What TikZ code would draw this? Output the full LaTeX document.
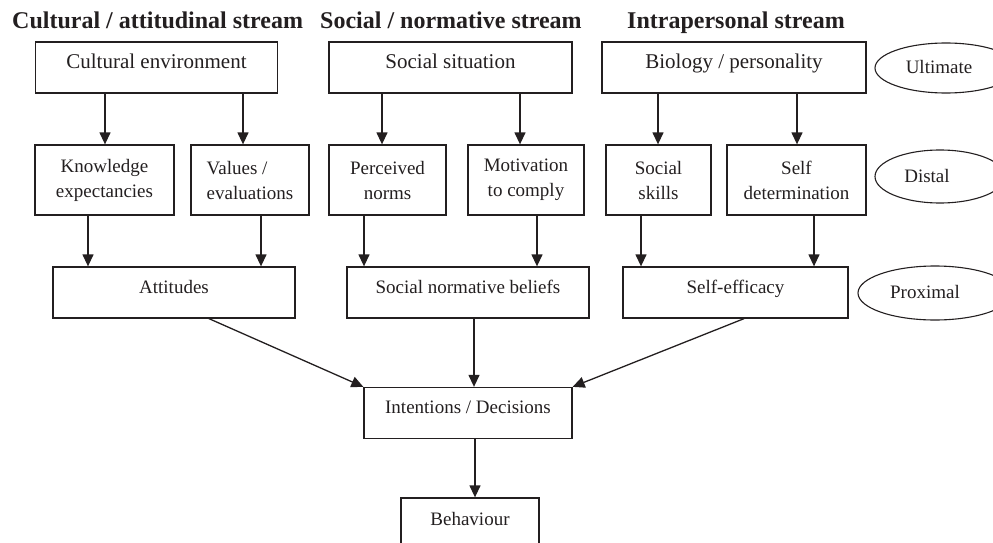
\documentclass[tikz,border=0pt]{standalone}
\usepackage{fontspec}
\setmainfont{Liberation Serif}
\usetikzlibrary{arrows.meta,shapes.geometric}
\definecolor{ln}{RGB}{35,31,32}
\begin{document}
\begin{tikzpicture}[x=1pt,y=-1pt,
  every node/.style={font=\fontsize{19}{25}\selectfont, text=ln},
  lbox/.style={draw=ln, line width=1.3pt, inner sep=0pt, text height=26pt, text depth=25pt, align=center},
  topbox/.style={lbox, font=\fontsize{21}{25}\selectfont, text height=27pt, text depth=24pt},
  tbox/.style={draw=ln, line width=1.3pt, inner sep=0pt, minimum height=70pt, align=center},
  oval/.style={draw=ln, line width=1.1pt, ellipse, inner sep=0pt},
  head/.style={font=\bfseries\fontsize{24}{28}\selectfont, anchor=base west, inner sep=0pt},
  arr/.style={draw=ln, line width=1.3pt, -{Triangle[length=12pt,width=11pt]}}]
\path[use as bounding box] (0,0) rectangle (993,543);

% headers
\node[head] (h1) at (12,29) {Cultural / attitudinal stream};
\node[head] (h2) at (320,29) {Social / normative stream};
\node[head] (h3) at (627,29) {Intrapersonal stream};

% row 1
\node[topbox, minimum width=242pt] (cult) at (156.5,67.5) {Cultural environment};
\node[topbox, minimum width=243pt] (soc) at (450.5,67.5) {Social situation};
\node[topbox, minimum width=264pt] (bio) at (734,67.5) {Biology / personality};

% row 2
\node[tbox, minimum width=139pt] (know) at (104.5,180) {Knowledge\\expectancies};
\node[tbox, minimum width=118pt, align=left] (val) at (250,180) {Values /\\evaluations};
\node[tbox, minimum width=117pt] (perc) at (387.5,180) {Perceived\\norms};
\node[tbox, minimum width=116pt] (motiv) at (526,180) {Motivation\\to comply};
\node[tbox, minimum width=105pt] (skill) at (658.5,180) {Social\\skills};
\node[tbox, minimum width=139pt] (sdet) at (796.5,180) {Self\\determination};

% row 3
\node[lbox, minimum width=242pt] (att) at (174,292.5) {Attitudes};
\node[lbox, minimum width=242pt] (snb) at (468,292.5) {Social normative beliefs};
\node[lbox, minimum width=225pt] (se) at (735.5,292.5) {Self-efficacy};

% bottom
\node[lbox, minimum width=208pt] (int) at (468,413) {Intentions / Decisions};
\node[lbox, minimum width=138pt, text height=27pt, text depth=24pt] (beh) at (470,523.5) {Behaviour};

% level ellipses
\node[oval, minimum width=142pt, minimum height=50pt] (ult) at (946,68) {};
\node (ultT) at (939,67) {Ultimate};
\node[oval, minimum width=130pt, minimum height=53pt] (dist) at (940,176.5) {};
\node (distT) at (927,176) {Distal};
\node[oval, minimum width=154pt, minimum height=54pt] (prox) at (935,293) {};
\node (proxT) at (925,292) {Proximal};

% arrow columns
\coordinate (a1) at (105,0);
\coordinate (a2) at (243,0);
\coordinate (a3) at (382,0);
\coordinate (a4) at (520,0);
\coordinate (a5) at (658,0);
\coordinate (a6) at (797,0);
\coordinate (b1) at (88,0);
\coordinate (b2) at (261,0);
\coordinate (b3) at (364,0);
\coordinate (b4) at (537,0);
\coordinate (b5) at (641,0);
\coordinate (b6) at (814,0);
\coordinate (c1) at (209,0);
\coordinate (c2) at (474,0);
\coordinate (c3) at (744,0);
\coordinate (c4) at (475,0);

\draw[arr] (cult.south -| a1) -- (know.north -| a1);
\draw[arr] (cult.south -| a2) -- (val.north -| a2);
\draw[arr] (soc.south -| a3) -- (perc.north -| a3);
\draw[arr] (soc.south -| a4) -- (motiv.north -| a4);
\draw[arr] (bio.south -| a5) -- (skill.north -| a5);
\draw[arr] (bio.south -| a6) -- (sdet.north -| a6);

\draw[arr] (know.south -| b1) -- (att.north -| b1);
\draw[arr] (val.south -| b2) -- (att.north -| b2);
\draw[arr] (perc.south -| b3) -- (snb.north -| b3);
\draw[arr] (motiv.south -| b4) -- (snb.north -| b4);
\draw[arr] (skill.south -| b5) -- (se.north -| b5);
\draw[arr] (sdet.south -| b6) -- (se.north -| b6);

\draw[arr] (att.south -| c1) -- (int.north west);
\draw[arr] (snb.south -| c2) -- (int.north -| c2);
\draw[arr] (se.south -| c3) -- (int.north east);
\draw[arr] (int.south -| c4) -- (beh.north -| c4);
\end{tikzpicture}
\end{document}
